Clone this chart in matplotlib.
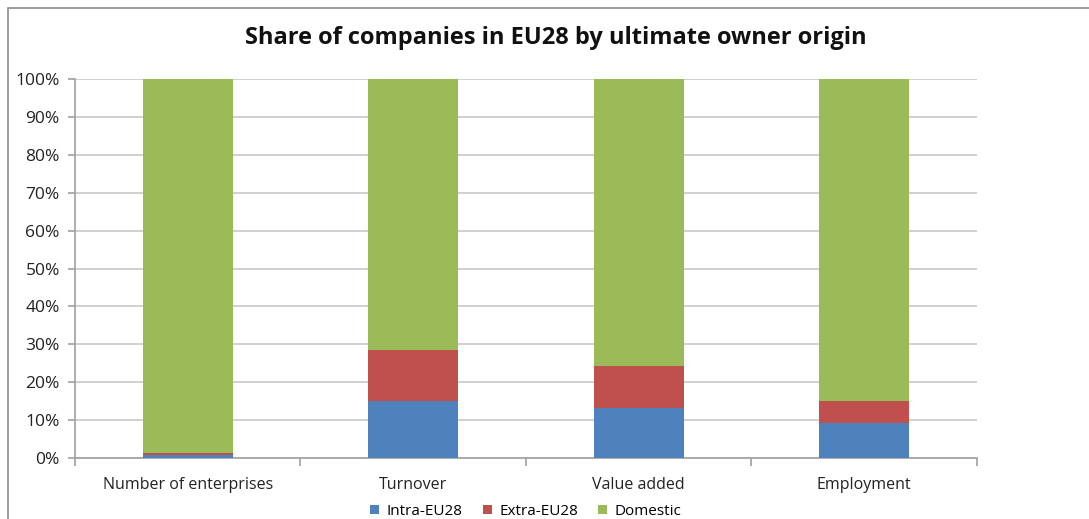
import numpy as np
import matplotlib.pyplot as plt
from matplotlib.patches import Rectangle

plt.rcParams['font.family'] = ['Open Sans', 'DejaVu Sans']

categories = ['Number of enterprises', 'Turnover', 'Value added', 'Employment']
intra_eu = [0.8, 15.1, 13.2, 9.2]
extra_eu = [0.4, 13.4, 11.1, 5.9]
domestic = [100 - a - b for a, b in zip(intra_eu, extra_eu)]

fig = plt.figure(figsize=(10.89, 5.19), dpi=100)
ax = fig.add_axes([0.0689, 0.1175, 0.828, 0.7303])

# chart area frame
fig.patches.append(Rectangle((8/1089, -0.1), 1.2, 1 - 8/519 + 0.1, transform=fig.transFigure,
                             fill=False, edgecolor='#8c8c8c', linewidth=1.2))

x = np.arange(len(categories))
width = 0.4
ax.bar(x, intra_eu, width, color='#4f81bd', label='Intra-EU28', zorder=3)
ax.bar(x, extra_eu, width, bottom=intra_eu, color='#c0504d', label='Extra-EU28', zorder=3)
ax.bar(x, domestic, width, bottom=np.array(intra_eu) + np.array(extra_eu),
       color='#9bbb59', label='Domestic', zorder=3)

ax.set_xlim(-0.5, len(categories) - 0.5)
ax.set_ylim(0, 100)
ax.set_yticks(np.arange(0, 101, 10))
ax.set_yticklabels([f'{v}%' for v in range(0, 101, 10)], fontsize=12.5, color='#222222')
ax.grid(axis='y', color='#c8c8c8', linewidth=1.2, zorder=0)

ax.set_xticks(x)
ax.set_xticklabels(categories, fontsize=11.5, color='#222222')
ax.tick_params(axis='x', length=0, pad=14)
ax.set_xticks(np.arange(-0.5, len(categories)), minor=True)
ax.tick_params(axis='x', which='minor', length=6, color='#a0a0a0', width=1.2)
ax.tick_params(axis='y', length=5, color='#a0a0a0', width=1.2, pad=6)

for s in ['top', 'right']:
    ax.spines[s].set_visible(False)
for s in ['left', 'bottom']:
    ax.spines[s].set_color('#a0a0a0')
    ax.spines[s].set_linewidth(1.2)

fig.suptitle('Share of companies in EU28 by ultimate owner origin', x=0.51, y=0.95,
             fontsize=17, fontweight='bold', color='#111111')

ax.legend(loc='upper center', bbox_to_anchor=(0.50, -0.085), ncol=3, frameon=False,
          fontsize=11, handlelength=0.6, handleheight=0.6, handletextpad=0.5,
          columnspacing=1.3)

plt.savefig('out.png', dpi=100)
